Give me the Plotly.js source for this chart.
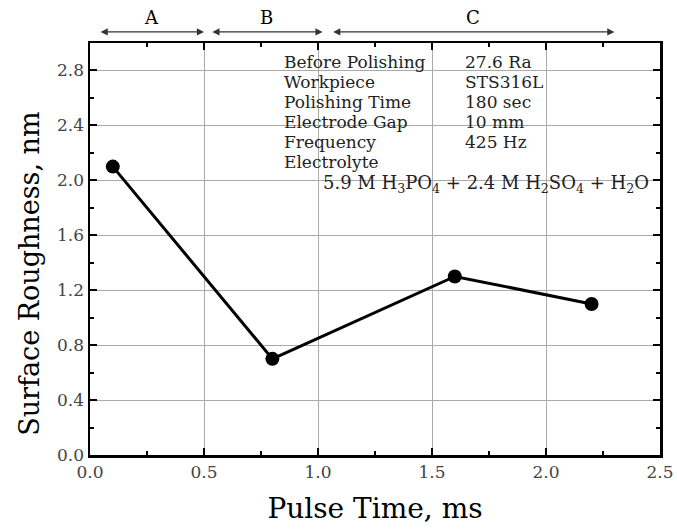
<!DOCTYPE html>
<html>
<head>
<meta charset="utf-8">
<script src="https://cdn.plot.ly/plotly-3.0.1.min.js"></script>
<style>html,body{margin:0;padding:0;background:#fff}#chart{width:677px;height:532px}</style>
</head>
<body>
<div id="chart"></div>
<script>
// Data
var pulseTime = [0.1, 0.8, 1.6, 2.2];
var roughness = [2.1, 0.7, 1.3, 1.1];

// Region labels and their spans (ms)
var regionLabels = ['A', 'B', 'C'];
var regionStart = [0.04, 0.53, 1.06];
var regionEnd = [0.50, 1.02, 2.30];

// Condition table
var condNames = ['Before Polishing', 'Workpiece', 'Polishing Time', 'Electrode Gap', 'Frequency', 'Electrolyte'];
var condValues = ['27.6 Ra', 'STS316L', '180 sec', '10 mm', '425 Hz', ''];
var electrolyte = '5.9 M H<sub>3</sub>PO<sub>4</sub> + 2.4 M H<sub>2</sub>SO<sub>4</sub> + H<sub>2</sub>O';

var serif = 'DejaVu Serif, Liberation Serif, serif';

var trace = {
  x: pulseTime, y: roughness, type: 'scatter', mode: 'lines+markers',
  line: {color: '#000', width: 3},
  marker: {color: '#000', size: 14},
  showlegend: false, hoverinfo: 'skip'
};

var annotations = [];
var arrowLevel = 1.027;
for (var i = 0; i < regionLabels.length; i++) {
  // double-headed arrow spanning the region
  annotations.push({
    x: regionEnd[i], y: arrowLevel, xref: 'x', yref: 'paper',
    ax: regionStart[i], ay: 0, axref: 'x', ayref: 'pixel',
    showarrow: true, arrowhead: 2, startarrowhead: 2, arrowside: 'end+start',
    arrowsize: 1.1, startarrowsize: 1.1, arrowwidth: 1.3, arrowcolor: '#333', text: ''
  });
  annotations.push({
    x: (regionStart[i] + regionEnd[i]) / 2, y: 1.063, xref: 'x', yref: 'paper',
    text: regionLabels[i], showarrow: false,
    font: {family: serif, size: 18, color: '#000'}, yanchor: 'middle'
  });
}
// condition table
var rowStep = 0.0485;
for (var j = 0; j < condNames.length; j++) {
  annotations.push({
    x: 0.842, y: (455 - 62) / 412 - j * rowStep, xref: 'x', yref: 'paper',
    text: condNames[j], showarrow: false, xanchor: 'left', yanchor: 'middle',
    font: {family: serif, size: 17, color: '#222'}
  });
  if (condValues[j]) {
    annotations.push({
      x: 1.636, y: (455 - 62) / 412 - j * rowStep, xref: 'x', yref: 'paper',
      text: condValues[j], showarrow: false, xanchor: 'left', yanchor: 'middle',
      font: {family: serif, size: 17, color: '#222'}
    });
  }
}
annotations.push({
  x: 1.737, y: (455 - 184) / 412, xref: 'x', yref: 'paper',
  text: electrolyte, showarrow: false, xanchor: 'center', yanchor: 'middle',
  font: {family: serif, size: 18, color: '#222'}
});
// y axis title (sits slightly below the plot centre in the reference)
annotations.push({
  x: -0.105, y: 0.44, xref: 'paper', yref: 'paper', textangle: -90,
  text: 'Surface Roughness, nm', showarrow: false, xanchor: 'center', yanchor: 'middle',
  font: {family: serif, size: 27, color: '#000'}
});

var layout = {
  width: 677, height: 532,
  margin: {l: 90, r: 17, t: 43, b: 77},
  paper_bgcolor: '#fff', plot_bgcolor: '#fff',
  font: {family: serif, color: '#000'},
  xaxis: {
    range: [0, 2.5], dtick: 0.5, tick0: 0, tickformat: '.1f',
    ticks: 'inside', ticklen: 7, tickwidth: 2, tickcolor: '#000',
    minor: {dtick: 0.25, ticks: 'inside', ticklen: 4, tickwidth: 2, tickcolor: '#000', showgrid: false},
    showline: true, linewidth: 2.5, linecolor: '#000', mirror: 'allticks',
    showgrid: true, gridcolor: '#aaa', gridwidth: 1, zeroline: false,
    tickfont: {family: serif, size: 17, color: '#444'},
    title: {text: 'Pulse Time, ms', font: {family: serif, size: 28, color: '#000'}, standoff: 18}
  },
  yaxis: {
    range: [0, 3.0], dtick: 0.4, tick0: 0, tickformat: '.1f',
    ticks: 'inside', ticklen: 7, tickwidth: 2, tickcolor: '#000',
    minor: {dtick: 0.2, ticks: 'inside', ticklen: 4, tickwidth: 2, tickcolor: '#000', showgrid: false},
    showline: true, linewidth: 2.5, linecolor: '#000', mirror: 'allticks',
    showgrid: true, gridcolor: '#aaa', gridwidth: 1, zeroline: false,
    tickfont: {family: serif, size: 17, color: '#444'}
  },
  annotations: annotations
};

Plotly.newPlot('chart', [trace], layout, {displayModeBar: false, staticPlot: true});
</script>
</body>
</html>
